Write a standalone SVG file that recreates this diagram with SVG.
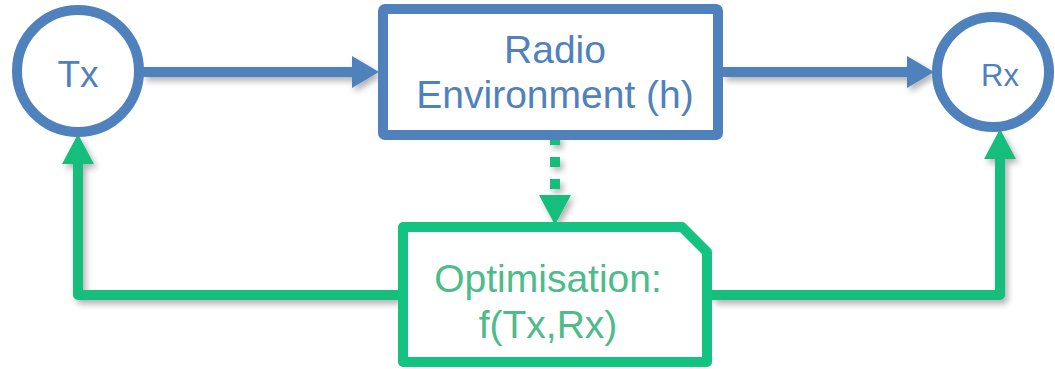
<svg xmlns="http://www.w3.org/2000/svg" width="1055" height="369" viewBox="0 0 1055 369">
  <style>
    .blue-stroke { fill: #ffffff; stroke: #4F81BD; stroke-width: 10; }
    .green-stroke { fill: #ffffff; stroke: #14C382; stroke-width: 10; stroke-linejoin: round; }
    .link { fill: none; stroke-width: 10; }
    .link.blue { stroke: #4F81BD; }
    .link.green { stroke: #13BE7E; stroke-linejoin: round; }
    .label { font-family: "Liberation Sans", Arial, sans-serif; text-anchor: middle; }
    .label.blue { fill: #4F81BD; }
    .label.green { fill: #4DBB8A; }
  </style>
  <defs>
    <filter id="shadow" x="-20%" y="-20%" width="140%" height="140%">
      <feDropShadow dx="3" dy="4" stdDeviation="3" flood-color="#000000" flood-opacity="0.3"/>
    </filter>
    <marker id="arrow-blue" markerUnits="userSpaceOnUse" markerWidth="27" markerHeight="32" refX="0" refY="16" orient="auto">
      <path d="M0,0 L27,16 L0,32 z" fill="#4F81BD"/>
    </marker>
    <marker id="arrow-green" markerUnits="userSpaceOnUse" markerWidth="30" markerHeight="32" refX="0" refY="16" orient="auto">
      <path d="M0,0 L30,16 L0,32 z" fill="#13BE7E"/>
    </marker>
  </defs>

  <!-- connectors -->
  <g id="connectors" filter="url(#shadow)">
    <path class="link blue" d="M143,72 H352" marker-end="url(#arrow-blue)"/>
    <path class="link blue" d="M723,72 H907" marker-end="url(#arrow-blue)"/>
    <path class="link green" d="M555,135 V195" stroke-dasharray="10 12" marker-end="url(#arrow-green)"/>
    <path class="link green" d="M398,295 H78 V164" marker-end="url(#arrow-green)"/>
    <path class="link green" d="M712,295 H1000 V159" marker-end="url(#arrow-green)"/>
  </g>

  <!-- transmitter -->
  <g id="tx">
    <circle class="blue-stroke" cx="78" cy="71" r="61"/>
    <text class="label blue" x="78" y="87" font-size="37">Tx</text>
  </g>

  <!-- channel -->
  <g id="radio-environment">
    <rect class="blue-stroke" x="383" y="9" width="335" height="126" rx="2"/>
    <text class="label blue" x="555" y="63" font-size="39">Radio</text>
    <text class="label blue" x="555" y="108" font-size="39">Environment (h)</text>
  </g>

  <!-- receiver -->
  <g id="rx">
    <ellipse class="blue-stroke" cx="993" cy="72" rx="56" ry="55"/>
    <text class="label blue" x="1000" y="86" font-size="31">Rx</text>
  </g>

  <!-- optimisation block -->
  <g id="optimisation">
    <path class="green-stroke" d="M403,227 H682 L707,252 V362 H403 Z"/>
    <text class="label green" x="548" y="292" font-size="39">Optimisation:</text>
    <text class="label green" x="548" y="338" font-size="39">f(Tx,Rx)</text>
  </g>
</svg>
